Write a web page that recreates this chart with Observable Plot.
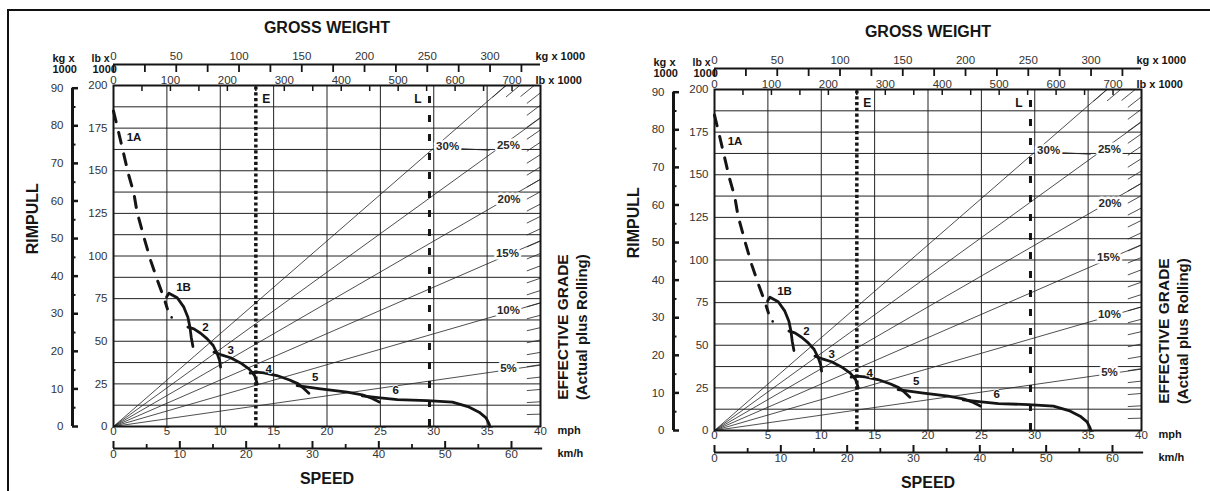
<!DOCTYPE html>
<html><head><meta charset="utf-8">
<script src="https://cdn.jsdelivr.net/npm/d3@7"></script>
<script src="https://cdn.jsdelivr.net/npm/@observablehq/plot@0.6"></script>
<style>
html,body{margin:0;padding:0;background:#fff;}
#wrap{position:relative;width:1210px;height:491px;overflow:hidden;background:#fff;font-family:"Liberation Sans",Arial,Helvetica,sans-serif;}
#wrap svg{position:absolute;}
.topline{position:absolute;left:7px;top:9px;width:1203px;height:2px;background:#111;}
.leftline{position:absolute;left:7px;top:9px;width:2px;height:482px;background:#111;}
</style></head>
<body><div id="wrap"><div class="topline"></div><div class="leftline"></div></div>
<script>
// ---------- axes / tick labels ----------
const speedMphLabels = [0,5,10,15,20,25,30,35,40];
const speedKmhLabels = [0,10,20,30,40,50,60];
const speedKmhMinor = [5,15,25,35,45,55];
const rimpullLbLabels = [0,25,50,75,100,125,150,175,200];
const rimpullKgLabels = [0,10,20,30,40,50,60,70,80,90];
const rimpullKgMinor = [5,15,25,35,45,55,65,75,85];
const gwKgLabels = [0,50,100,150,200,250,300];
const gwKgTicks = [0,25,50,75,100,125,150,175,200,225,250,275,300,325];
const gwLbLabels = [0,100,200,300,400,500,600,700];
const gwLbTicks = [50,100,150,200,250,300,350,400,450,500,550,600,650,700];
const gridRimpull = [12.5,25,37.5,50,62.5,75,87.5,100,112.5,125,137.5,150,162.5,175,187.5];
const gridSpeed = [5,10,15,20,25,30,35];

// gross-weight scale: 750 lb x1000 spans the 40 mph width
const lbPerMph = 18.75;
const kgToLb = 2.20462;
const kmhToMph = 1/1.609344;

// ---------- effective grade lines ----------
const gradeLabels = ["5%","10%","15%","20%","25%","30%"];
const gradeEndWeightLb = [750,750,750,750,750,689];
const gradeEndRimpullLb = [36,72.5,109,145,181,200];
const gradeLabelMph = [37.0,37.0,36.9,37.05,37.0,31.3];
const gradeLabelRimpull = [34,68,101.5,133,165,164.3];
const gradeTickPct = d3.range(1,31);      // 1 % ticks along the right / top border
const edgeRimpullPerPct = 7.25;            // rimpull at 750 lb GW per 1 % grade (read)
const leader30 = [[32.5,163],[35.2,162]];  // leader after the 30% label

// ---------- E / L gross weight markers (lb x1000) ----------
const markerNames = ["E","L"];
const markerWeightLb = [250,555];

// ---------- rimpull curves [mph, lb x1000] ----------
const gear1A = [[0,185],[0.5,172],[0.95,160],[1.4,148],[1.9,137],[2.2,126],[2.85,111],[3.5,97],[4.1,86],[4.8,74],[5.05,69]];
const gear1Adot = [[5.45,64]];
const gear1B = [[4.97,75.9],[5.19,78.2],[5.97,75.5],[6.59,70.0],[6.97,64.1],[7.16,58.3],[7.28,52.4],[7.44,46.9]];
const gear2 = [[6.97,58.3],[7.53,57.3],[8.16,54.7],[8.78,51.4],[9.34,47.5],[9.72,42.6],[9.94,38.7],[10.03,34.8]];
const gear3 = [[9.41,43.6],[10.03,42.2],[10.97,40.3],[11.9,37.3],[12.69,33.8],[13.22,29.9],[13.47,25.0]];
const gear4 = [[12.8,31.3],[13.3,31.9],[14.1,31.5],[15.3,29.9],[16.5,27.3],[17.3,25],[17.8,22.5],[18.3,19.5]];
const gear5 = [[17.2,24.0],[19.4,22.1],[21.9,20.1],[23.3,18.6],[24.1,16.8],[24.9,14.3]];
const gear6 = [[23.3,18.0],[25.0,16.8],[26.6,15.8],[29.4,15.2],[31.75,14.3],[33.2,11.7],[34.25,8.4],[34.9,5.1],[35.2,1.2],[35.25,0]];
const gearNames = ["1A","1B","2","3","4","5","6"];
const gearLabelMph = [1.92,6.56,8.62,10.97,14.53,18.9,26.44];
const gearLabelRimpull = [169.7,81.5,58.2,44.4,33.6,28.9,21.1];

function chart(){
  const X = lb => lb / lbPerMph;
  const font = "Liberation Sans, Arial, Helvetica, sans-serif";
  const ink = "#151515", tick = "#333";
  const gradeRows = gradeLabels.flatMap((g,i)=>[{g,x:0,y:0},{g,x:X(gradeEndWeightLb[i]),y:gradeEndRimpullLb[i]}]);
  const edgeTicks = gradeTickPct.map(g=>{
    const s = g*edgeRimpullPerPct/750;
    const W = Math.min(750, 200/s);
    return {x1:X(W-24), y1:s*(W-24), x2:X(W), y2:s*W};
  });
  const gradeText = gradeLabels.map((t,i)=>({t, x:gradeLabelMph[i], y:gradeLabelRimpull[i]}));
  const gearText = gearNames.map((t,i)=>({t, x:gearLabelMph[i], y:gearLabelRimpull[i]}));
  const curve = (data, extra={}) => Plot.line(data, {x:d=>d[0], y:d=>d[1], stroke:ink, strokeWidth:2.8, strokeLinejoin:"round", ...extra});
  const unit = (t, dx, dy, opts={}) => Plot.text([t], {frameAnchor:"top-left", dx, dy, fontSize:11, fontWeight:"bold", fill:ink, ...opts});
  return Plot.plot({
    width:600, height:491, marginLeft:113, marginRight:60, marginTop:85, marginBottom:65,
    x:{domain:[0,40], axis:null}, y:{domain:[0,200], axis:null},
    style:{background:"transparent", fontFamily:font, overflow:"visible", color:ink},
    marks:[
      Plot.ruleY(gridRimpull, {stroke:"#222", strokeWidth:1}),
      Plot.ruleX(gridSpeed, {stroke:"#222", strokeWidth:1}),
      Plot.line(gradeRows, {x:"x", y:"y", z:"g", stroke:"#222", strokeWidth:0.8}),
      Plot.link(edgeTicks, {x1:"x1", y1:"y1", x2:"x2", y2:"y2", stroke:"#222", strokeWidth:0.8}),
      Plot.line(leader30, {x:d=>d[0], y:d=>d[1], stroke:"#222", strokeWidth:0.8}),
      Plot.ruleX([markerWeightLb[0]], {x:d=>X(d), y1:0, y2:200, stroke:ink, strokeWidth:3.5, strokeDasharray:"3.2,2.6"}),
      Plot.ruleX([markerWeightLb[1]], {x:d=>X(d), y1:0, y2:200, stroke:ink, strokeWidth:3, strokeDasharray:"7,12"}),
      curve(gear1A, {strokeDasharray:"11,11", strokeWidth:3}),
      Plot.dot(gear1Adot, {x:d=>d[0], y:d=>d[1], r:1.3, fill:ink}),
      curve(gear1B), curve(gear2), curve(gear3), curve(gear4), curve(gear5), curve(gear6),
      Plot.frame({stroke:ink, strokeWidth:2}),
      // grade labels with white halo
      Plot.text(gradeText, {x:"x", y:"y", text:"t", fontSize:11.5, fontWeight:"bold", fill:"#2a2a2a", stroke:"white", strokeWidth:5}),
      Plot.text(gearText, {x:"x", y:"y", text:"t", fontSize:11.5, fontWeight:"bold", fill:ink, stroke:"white", strokeWidth:2}),
      Plot.text([markerNames[0]], {x:X(markerWeightLb[0]), y:200, dx:6.5, dy:13.5, textAnchor:"start", fontSize:12, fontWeight:"bold", fill:ink}),
      Plot.text([markerNames[1]], {x:X(markerWeightLb[1]), y:200, dx:-8, dy:14, textAnchor:"end", fontSize:12, fontWeight:"bold", fill:ink}),
      // plot-top pound ticks
      Plot.axisX(gwLbTicks.map(X), {anchor:"top", tickSize:5, dy:5, fill:"none", stroke:ink, strokeWidth:1.5, label:null}),
      // gross weight axis
      Plot.ruleY([200], {x1:0, x2:40, dy:-21, stroke:ink, strokeWidth:2}),
      Plot.axisX(gwKgTicks.map(k=>X(k*kgToLb)), {anchor:"top", tickSize:7, dy:-14, fill:"none", stroke:ink, strokeWidth:1.8, label:null}),
      Plot.text(gwKgLabels, {x:d=>X(d*kgToLb), frameAnchor:"top", dy:-34, fontSize:11.5, fill:tick}),
      Plot.text(gwLbLabels, {x:d=>X(d), frameAnchor:"top", dy:-10, fontSize:11.5, fill:tick}),
      // rimpull axes
      Plot.ruleX([0], {y1:0, y2:90*kgToLb, dx:-41, stroke:ink, strokeWidth:3}),
      Plot.axisY(rimpullKgLabels.map(k=>k*kgToLb), {anchor:"left", tickSize:6, dx:-35, fill:"none", stroke:ink, strokeWidth:2.5, label:null}),
      Plot.axisY(rimpullKgMinor.map(k=>k*kgToLb), {anchor:"left", tickSize:3.5, dx:-37.5, fill:"none", stroke:ink, strokeWidth:2, label:null}),
      Plot.text(rimpullKgLabels, {y:d=>d*kgToLb, frameAnchor:"left", dx:-50, textAnchor:"end", fontSize:11.5, fill:tick}),
      Plot.text(rimpullLbLabels, {y:d=>d, frameAnchor:"left", dx:-6, textAnchor:"end", fontSize:11.5, fill:tick}),
      // speed axes
      Plot.text(speedMphLabels, {x:d=>d, frameAnchor:"bottom", dy:8, fontSize:11.5, fill:tick}),
      Plot.ruleY([0], {x1:0, x2:40.2, dy:22, stroke:ink, strokeWidth:2}),
      Plot.axisX(speedKmhLabels.map(k=>k*kmhToMph), {anchor:"bottom", tickSize:7, dy:15, fill:"none", stroke:ink, strokeWidth:2, label:null}),
      Plot.axisX(speedKmhMinor.map(k=>k*kmhToMph), {anchor:"bottom", tickSize:4, dy:18, fill:"none", stroke:ink, strokeWidth:1.8, label:null}),
      Plot.text(speedKmhLabels, {x:d=>d*kmhToMph, frameAnchor:"bottom", dy:31, fontSize:11.5, fill:tick}),
      // titles and unit labels
      Plot.text(["GROSS WEIGHT"], {x:20, frameAnchor:"top", dy:-64, fontSize:16, fontWeight:"bold", fill:ink}),
      Plot.text(["SPEED"], {x:20, frameAnchor:"bottom", dy:57, fontSize:16, fontWeight:"bold", fill:ink}),
      Plot.text(["RIMPULL"], {y:101, frameAnchor:"left", dx:-81, rotate:-90, fontSize:16, fontWeight:"bold", fill:ink}),
      Plot.text(["EFFECTIVE GRADE"], {y:101, frameAnchor:"right", dx:23, rotate:-90, fontSize:15.5, fontWeight:"bold", fill:ink}),
      Plot.text(["(Actual plus Rolling)"], {y:101, frameAnchor:"right", dx:42, rotate:-90, fontSize:15, fontWeight:"bold", fill:ink}),
      unit("kg x", -61, -31),
      unit("1000", -61, -20),
      unit("lb x", -22, -31, {fontSize:10.5}),
      unit("1000", -21, -20),
      Plot.text(["kg x 1000"], {frameAnchor:"top-right", dx:-5, dy:-33, textAnchor:"start", fontSize:11, fontWeight:"bold", fill:ink}),
      Plot.text(["lb x 1000"], {frameAnchor:"top-right", dx:-5, dy:-9, textAnchor:"start", fontSize:11, fontWeight:"bold", fill:ink}),
      Plot.text(["mph"], {frameAnchor:"bottom-right", dx:17, dy:7, textAnchor:"start", fontSize:11, fontWeight:"bold", fill:ink}),
      Plot.text(["km/h"], {frameAnchor:"bottom-right", dx:17, dy:30, textAnchor:"start", fontSize:11, fontWeight:"bold", fill:ink})
    ]
  });
}
const wrap = document.getElementById("wrap");
const left = chart(); left.style.left = "0px"; left.style.top = "0px"; wrap.appendChild(left);
const right = chart(); right.style.left = "601px"; right.style.top = "4px"; wrap.appendChild(right);
</script>
</body></html>
